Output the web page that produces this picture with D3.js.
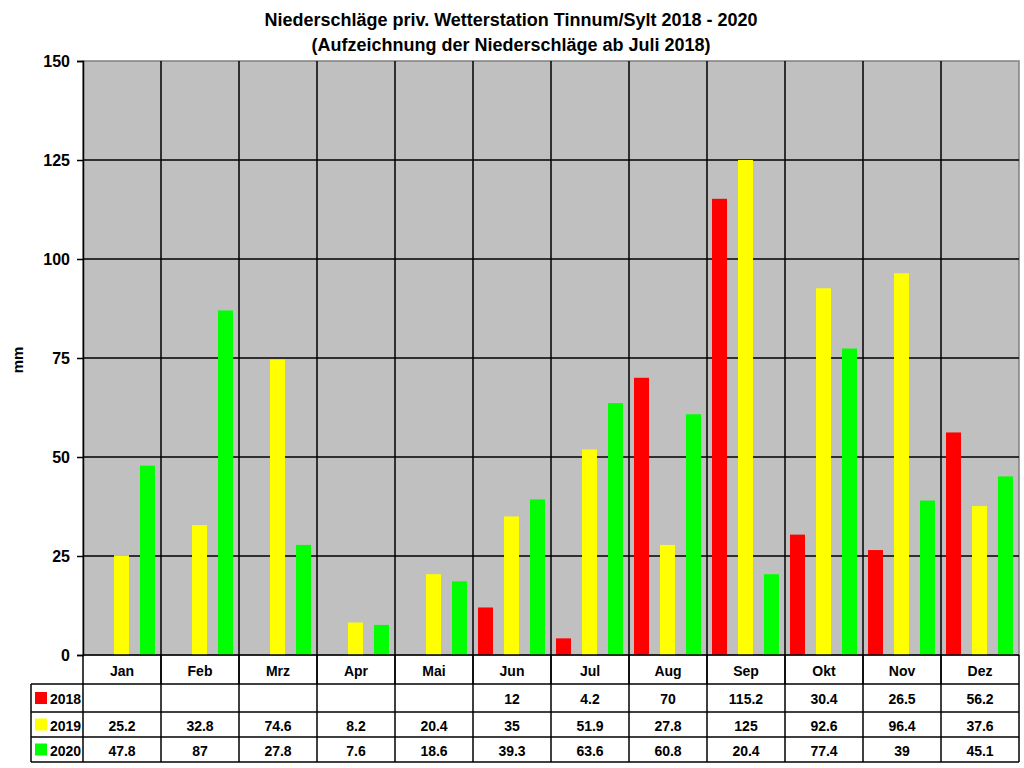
<!DOCTYPE html>
<html>
<head>
<meta charset="utf-8">
<script src="https://cdn.jsdelivr.net/npm/d3@7"></script>
<style>
  body { margin: 0; background: #fff; }
  svg text { font-family: "Liberation Sans", Arial, sans-serif; font-weight: bold; fill: #000; }
</style>
</head>
<body>
<div id="chart"></div>
<script>
// data
var months = ["Jan", "Feb", "Mrz", "Apr", "Mai", "Jun", "Jul", "Aug", "Sep", "Okt", "Nov", "Dez"];
var years = ["2018", "2019", "2020"];
var rain2018 = [null, null, null, null, null, 12, 4.2, 70, 115.2, 30.4, 26.5, 56.2];
var rain2019 = [25.2, 32.8, 74.6, 8.2, 20.4, 35, 51.9, 27.8, 125, 92.6, 96.4, 37.6];
var rain2020 = [47.8, 87, 27.8, 7.6, 18.6, 39.3, 63.6, 60.8, 20.4, 77.4, 39, 45.1];
var yTicks = [0, 25, 50, 75, 100, 125, 150];
var colors = ["#ff0000", "#ffff00", "#00ff00"];

var series = [rain2018, rain2019, rain2020];

var width = 1024, height = 768;
var plot = { left: 83, right: 1019, top: 61, bottom: 655 };
var rowTops = [655, 684, 712, 737, 762]; // month row, 2018, 2019, 2020, bottom
var legendLeft = 31;

var svg = d3.select("#chart").append("svg")
  .attr("width", width)
  .attr("height", height);

// title
svg.append("text")
  .attr("x", 511).attr("y", 26)
  .attr("text-anchor", "middle")
  .style("font-size", "18px")
  .text("Niederschläge priv. Wetterstation Tinnum/Sylt 2018 - 2020");
svg.append("text")
  .attr("x", 511).attr("y", 51)
  .attr("text-anchor", "middle")
  .style("font-size", "18px")
  .text("(Aufzeichnung der Niederschläge ab Juli 2018)");

var x = d3.scaleBand()
  .domain(months)
  .range([plot.left, plot.right]);

var x1 = d3.scaleBand()
  .domain(years)
  .range([5, 72])
  .paddingInner(11 / 26);

var y = d3.scaleLinear()
  .domain([0, 150])
  .range([plot.bottom, plot.top]);

// plot background
svg.append("rect")
  .attr("x", plot.left).attr("y", plot.top)
  .attr("width", plot.right - plot.left)
  .attr("height", plot.bottom - plot.top)
  .attr("fill", "#c0c0c0")
  .attr("stroke", "#808080")
  .attr("stroke-width", 1.5);

// horizontal gridlines
svg.append("g").selectAll("line")
  .data(yTicks.filter(function(d) { return d > 0 && d < 150; }))
  .enter().append("line")
  .attr("x1", plot.left).attr("x2", plot.right)
  .attr("y1", function(d) { return y(d); })
  .attr("y2", function(d) { return y(d); })
  .attr("stroke", "#000")
  .attr("stroke-width", 1.5);

// vertical month separators
svg.append("g").selectAll("line")
  .data(months.slice(1))
  .enter().append("line")
  .attr("x1", function(d) { return x(d); })
  .attr("x2", function(d) { return x(d); })
  .attr("y1", plot.top).attr("y2", rowTops[1])
  .attr("stroke", "#000")
  .attr("stroke-width", 1.5);

// bars
series.forEach(function(vals, si) {
  svg.append("g").selectAll("rect")
    .data(vals.map(function(v, i) { return { m: months[i], v: v }; }).filter(function(d) { return d.v != null; }))
    .enter().append("rect")
    .attr("x", function(d) { return x(d.m) + x1(years[si]); })
    .attr("width", x1.bandwidth())
    .attr("y", function(d) { return y(d.v); })
    .attr("height", function(d) { return y(0) - y(d.v); })
    .attr("fill", colors[si]);
});

// y axis
var yAxis = d3.axisLeft(y)
  .tickValues(yTicks)
  .tickSize(6)
  .tickPadding(7);
var ya = svg.append("g")
  .attr("transform", "translate(" + plot.left + ",0)")
  .call(yAxis);
ya.select(".domain").attr("stroke", "#000").attr("stroke-width", 1.5);
ya.selectAll(".tick line").attr("stroke", "#000").attr("stroke-width", 1.5);
ya.selectAll(".tick text")
  .style("font-size", "16px")
  .style("font-family", "'Liberation Sans', Arial, sans-serif")
  .style("font-weight", "bold")
  .attr("fill", "#000");

svg.append("text")
  .attr("transform", "translate(23,360) rotate(-90)")
  .attr("text-anchor", "middle")
  .style("font-size", "15px")
  .text("mm");

// data table
var tbl = svg.append("g");
// horizontal lines
tbl.selectAll("line.h")
  .data(rowTops)
  .enter().append("line")
  .attr("class", "h")
  .attr("x1", function(d, i) { return i === 0 ? plot.left : legendLeft; })
  .attr("x2", plot.right)
  .attr("y1", function(d) { return d; })
  .attr("y2", function(d) { return d; })
  .attr("stroke", "#000")
  .attr("stroke-width", 1.5);
// vertical lines
var vx = [plot.left].concat(months.slice(1).map(function(m) { return x(m); })).concat([plot.right]);
tbl.selectAll("line.v")
  .data(vx)
  .enter().append("line")
  .attr("class", "v")
  .attr("x1", function(d) { return d; })
  .attr("x2", function(d) { return d; })
  .attr("y1", rowTops[0]).attr("y2", rowTops[4])
  .attr("stroke", "#000")
  .attr("stroke-width", 1.5);
tbl.append("line")
  .attr("x1", legendLeft).attr("x2", legendLeft)
  .attr("y1", rowTops[1]).attr("y2", rowTops[4])
  .attr("stroke", "#000")
  .attr("stroke-width", 1.5);

// month labels
tbl.selectAll("text.month")
  .data(months)
  .enter().append("text")
  .attr("class", "month")
  .attr("x", function(d) { return x(d) + x.bandwidth() / 2; })
  .attr("y", (rowTops[0] + rowTops[1]) / 2 + 6)
  .attr("text-anchor", "middle")
  .style("font-size", "14px")
  .text(function(d) { return d; });

// legend keys + values
years.forEach(function(yr, si) {
  var top = rowTops[si + 1], bot = rowTops[si + 2];
  var mid = (top + bot) / 2;
  tbl.append("rect")
    .attr("x", 35).attr("y", mid - 6)
    .attr("width", 12).attr("height", 12)
    .attr("fill", colors[si]);
  tbl.append("text")
    .attr("x", 50).attr("y", mid + 6)
    .style("font-size", "14px")
    .text(yr);
  tbl.selectAll("text.v" + yr)
    .data(series[si])
    .enter().append("text")
    .attr("x", function(d, i) { return x(months[i]) + x.bandwidth() / 2; })
    .attr("y", mid + 6)
    .attr("text-anchor", "middle")
    .style("font-size", "14px")
    .text(function(d) { return d == null ? "" : d; });
});
</script>
</body>
</html>
